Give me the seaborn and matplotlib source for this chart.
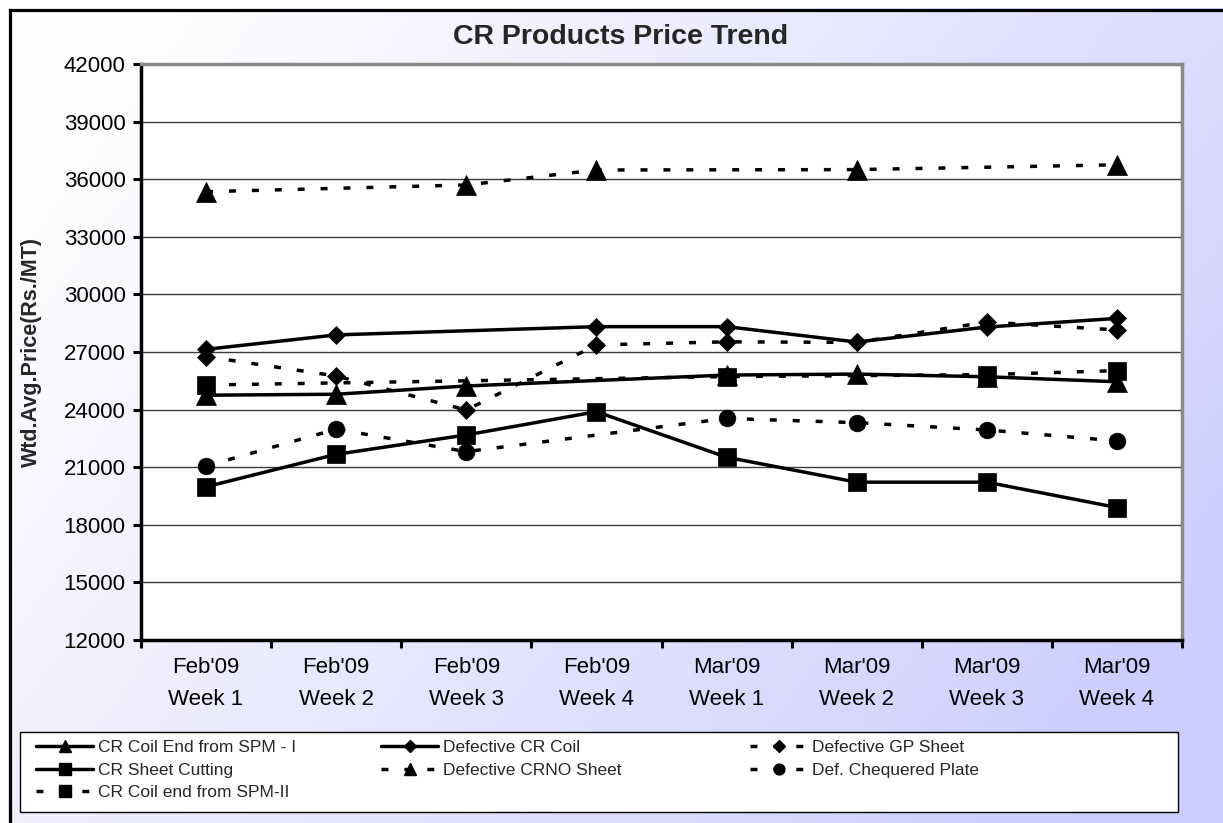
import numpy as np
import pandas as pd
import matplotlib
matplotlib.use("Agg")
import matplotlib.pyplot as plt
import seaborn as sns
from matplotlib.lines import Line2D
from matplotlib.patches import Rectangle

# --- Data (Rs./MT; nan = no point plotted) ---
nan = np.nan
weeks = ["Feb'09\nWeek 1", "Feb'09\nWeek 2", "Feb'09\nWeek 3", "Feb'09\nWeek 4",
         "Mar'09\nWeek 1", "Mar'09\nWeek 2", "Mar'09\nWeek 3", "Mar'09\nWeek 4"]

cr_coil_end_spm1 = [24750, 24800, 25230, nan, 25800, 25850, 25710, 25450]
defective_cr_coil = [27140, 27890, nan, 28320, 28320, 27520, 28300, 28750]
defective_gp_sheet = [26760, 25750, 23980, 27370, 27530, 27500, 28560, 28150]
cr_sheet_cutting = [19980, 21670, 22680, 23890, 21520, 20220, 20220, 18900]
defective_crno_sheet = [35350, nan, 35700, 36480, nan, 36500, nan, 36750]
def_chequered_plate = [21060, 22980, 21810, nan, 23540, 23320, 22940, 22370]
cr_coil_end_spm2 = [25280, nan, nan, nan, 25720, nan, 25820, 26030]

series = [
    ("CR Coil End from SPM - I", cr_coil_end_spm1, "^", False),
    ("Defective CR Coil", defective_cr_coil, "D", False),
    ("Defective GP Sheet", defective_gp_sheet, "D", True),
    ("CR Sheet Cutting", cr_sheet_cutting, "s", False),
    ("Defective CRNO Sheet", defective_crno_sheet, "^", True),
    ("Def. Chequered Plate", def_chequered_plate, "o", True),
    ("CR Coil end from SPM-II", cr_coil_end_spm2, "s", True),
]
marker_size = {"^": 14, "D": 9.5, "s": 13, "o": 12}
dash = (0, (2.0, 4.6))

# --- Figure ---
sns.set_theme(style="white")
plt.rcParams['font.family'] = ['Liberation Sans', 'DejaVu Sans']

W, H = 1223, 823
fig = plt.figure(figsize=(W / 100, H / 100), dpi=100)

# background: white -> lavender gradient, black frame on left/top
bg = fig.add_axes([0, 0, 1, 1], zorder=-10)
xx, yy = np.meshgrid(np.linspace(0, 1, W), np.linspace(0, 1, H))
t = np.clip(0.8 * xx + 0.4 * yy - 0.12, 0, 1)
c0 = np.array([254, 254, 255]) / 255
c1 = np.array([204, 204, 254]) / 255
img = c0 + (c1 - c0) * t[..., None]
img[:8, :] = 1
img[:, :8] = 1
bg.imshow(img, extent=(0, W, H, 0), aspect='auto', interpolation='bilinear')
bg.plot([9.5, 9.5], [9.5, H], color='black', lw=2.3, solid_capstyle='projecting')
bg.plot([9.5, W], [9.5, 9.5], color='black', lw=2.3, solid_capstyle='projecting')
bg.set_xlim(0, W)
bg.set_ylim(H, 0)
bg.axis('off')

# --- Plot area ---
ax = fig.add_axes([141 / W, 1 - 640 / H, 1041 / W, 576 / H])
ax.set_facecolor('white')
ax.set_axisbelow(True)

for name, vals, marker, dashed in series:
    df = pd.DataFrame({"pos": np.arange(len(weeks)), "price": vals}).dropna()
    sns.lineplot(data=df, x="pos", y="price", ax=ax, estimator=None, sort=False,
                 legend=False, color='black', lw=2.5,
                 linestyle=dash if dashed else '-',
                 marker=marker, ms=marker_size[marker],
                 mfc='black', mec='black', mew=0.5)

ax.set_ylim(12000, 42000)
ax.set_yticks(np.arange(12000, 42001, 3000))
ax.set_xlim(-0.5, len(weeks) - 0.5)
ax.set_xticks(range(len(weeks)))
ax.set_xticklabels(weeks)
ax.set_xticks(np.arange(-0.5, len(weeks), 1), minor=True)
ax.set_xlabel('')
ax.set_ylabel('')
ax.yaxis.grid(True, color='#3c3c3c', lw=1)
ax.xaxis.grid(False)

ax.tick_params(axis='x', which='major', bottom=False, length=0, pad=12,
               labelsize=16, labelcolor='black')
ax.tick_params(axis='x', which='minor', bottom=True, length=6, width=2.2,
               direction='out', color='black')
ax.tick_params(axis='y', left=True, length=6, width=2.2, direction='out',
               color='black', labelsize=16, labelcolor='black', pad=5)
for lab in ax.get_xticklabels():
    lab.set_linespacing(1.7)

for s in ['left', 'bottom']:
    ax.spines[s].set_color('black')
    ax.spines[s].set_linewidth(2.5)
for s in ['top', 'right']:
    ax.spines[s].set_color('#8a8a8a')
    ax.spines[s].set_linewidth(2.5)

# --- Titles ---
fig.text(621 / W, 1 - 37 / H, "CR Products Price Trend", ha='center', va='center',
         fontsize=20.5, fontweight='bold')
fig.text(31 / W, 1 - 352 / H, "Wtd.Avg.Price(Rs./MT)", ha='center', va='center',
         rotation=90, fontsize=15.5, fontweight='bold')

# --- Legend: white box, entries laid out row by row like Excel ---
box = Rectangle((20 / W, 1 - 812 / H), 1158 / W, 80 / H, transform=fig.transFigure,
                facecolor='white', edgecolor='black', lw=1.0, zorder=2)
fig.add_artist(box)

columns = [[0, 3, 6], [1, 4], [2, 5]]
col_x = [36, 381, 750]
for idx, x0 in zip(columns, col_x):
    handles, labels = [], []
    for i in idx:
        name, vals, marker, dashed = series[i]
        handles.append(Line2D([], [], color='black', lw=2.5,
                              linestyle=dash if dashed else '-',
                              marker=marker, ms=marker_size[marker] * 0.65,
                              mfc='black', mec='black'))
        labels.append(name)
    leg = fig.legend(handles, labels, loc='upper left',
                     bbox_to_anchor=(x0 / W, 1 - 740 / H), borderaxespad=0,
                     borderpad=0, fontsize=12.5, handlelength=3.3,
                     handletextpad=0.3, labelspacing=0.42, frameon=False)
    leg.set_zorder(5)

fig.savefig("out.png", dpi=100)
